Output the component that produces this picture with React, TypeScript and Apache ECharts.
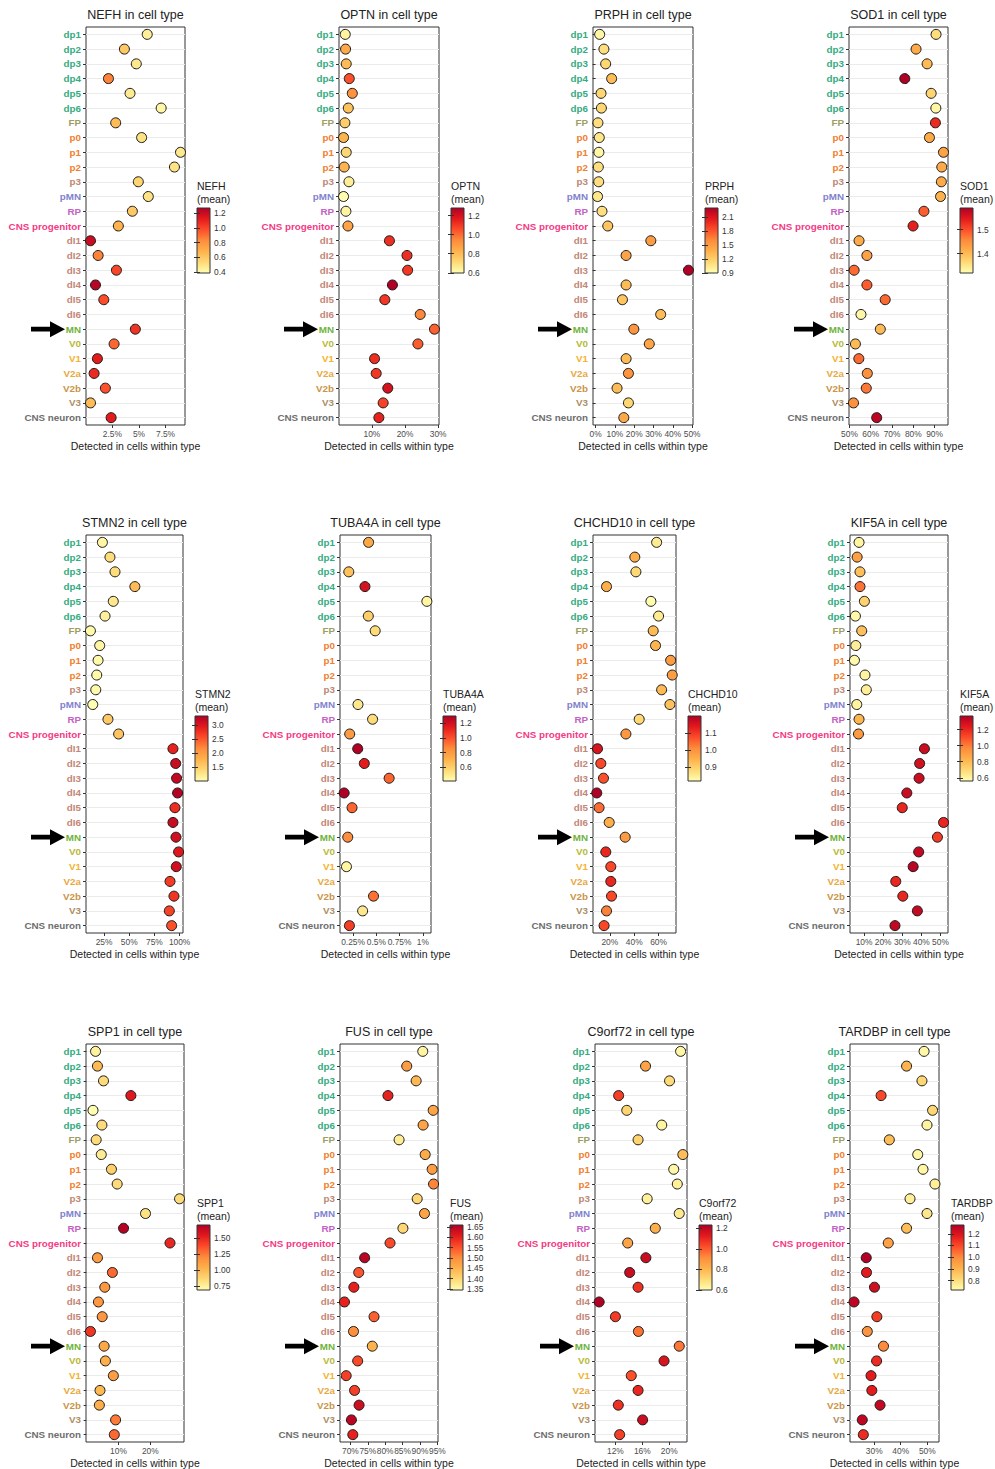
import React, { useEffect, useRef } from 'react';
import * as echarts from 'echarts';

// ---------- categories ----------
const CELL_TYPES = ['dp1','dp2','dp3','dp4','dp5','dp6','FP','p0','p1','p2','p3','pMN','RP','CNS progenitor','dI1','dI2','dI3','dI4','dI5','dI6','MN','V0','V1','V2a','V2b','V3','CNS neuron'];
const CELL_COLORS = ['#35AB80','#35AB80','#35AB80','#35AB80','#35AB80','#35AB80','#9E9E62','#F0802E','#F0802E','#F0802E','#BD8774','#8282CE','#C462C4','#F43A84','#C38676','#C38676','#C38676','#C38676','#C38676','#C38676','#6FB33C','#B8B93A','#F2B431','#E8A843','#C99448','#AC8F66','#6E6E6E'];

// ---------- values (percent detected, mean expression) ----------
const nefhPct = [5.78,3.63,4.75,2.13,4.16,7.09,2.81,5.25,8.91,8.34,4.94,5.88,4.38,3.06,0.44,1.16,2.88,0.91,1.69,null,4.66,2.66,1.09,0.78,1.84,0.44,2.38];
const nefhMean = [0.45,0.6,0.48,0.85,0.47,0.42,0.65,0.5,0.48,0.5,0.55,0.5,0.6,0.68,1.2,0.85,1.0,1.25,0.98,null,1.05,0.92,1.12,1.08,0.97,0.65,1.12];

const optnPct = [1.94,2.04,2.24,3.16,4.08,2.86,1.84,1.43,2.24,1.63,3.06,1.43,2.14,2.76,15.3,20.6,20.8,16.2,13.9,24.6,28.9,23.9,10.8,11.3,14.8,13.4,12.1];
const optnMean = [0.63,0.85,0.8,1.05,0.92,0.78,0.75,0.82,0.72,0.82,0.65,0.6,0.63,0.87,1.12,1.12,1.1,1.28,1.1,0.95,1.02,1.03,1.12,1.1,1.2,1.08,1.15];

const prphPct = [2.1,4.3,5.2,8.3,2.8,3.0,1.2,1.9,1.7,1.4,1.6,1.0,3.3,6.3,28.6,15.8,48.1,15.8,13.9,33.7,19.8,27.8,15.8,17.0,11.1,17.0,14.6];
const prphMean = [0.95,1.1,1.15,1.3,1.15,1.15,1.1,1.05,0.95,1.1,1.1,1.05,1.1,1.25,1.5,1.45,2.29,1.3,1.25,1.3,1.55,1.45,1.3,1.55,1.3,1.15,1.42];

const sod1Pct = [90.7,81.3,86.5,76.0,88.4,90.6,90.4,87.6,94.2,93.4,93.2,92.8,85.0,79.9,54.5,58.2,52.2,58.2,66.8,55.4,64.5,52.8,54.4,58.4,57.9,51.9,62.8];
const sod1Mean = [1.36,1.42,1.40,1.59,1.37,1.33,1.53,1.42,1.43,1.42,1.42,1.41,1.49,1.54,1.42,1.43,1.48,1.49,1.48,1.33,1.40,1.40,1.48,1.45,1.47,1.45,1.58];

const stmn2Pct = [23.4,30.9,35.9,55.6,34.2,26.0,11.5,20.7,19.1,17.8,16.8,13.8,28.9,39.5,93.4,96.1,97.0,98.0,95.4,93.4,96.4,99.0,96.7,90.5,94.4,89.8,92.1];
const stmn2Mean = [1.1,1.35,1.35,1.7,1.25,1.15,1.05,1.1,1.05,1.05,1.05,1.0,1.55,1.6,2.9,3.15,3.2,3.3,2.8,3.15,3.1,3.0,3.1,2.7,2.75,2.65,2.55];

const tuba4aPct = [0.417,null,0.204,0.378,1.044,0.414,0.488,null,null,null,null,0.303,0.46,0.214,0.30,0.371,0.638,0.154,0.239,null,0.193,null,0.179,null,0.47,0.353,0.211];
const tuba4aMean = [0.75,null,0.65,1.2,0.45,0.6,0.55,null,null,null,null,0.5,0.55,0.8,1.3,1.15,0.95,1.3,0.95,null,0.85,null,0.45,null,0.92,0.5,1.05];

const chchd10Pct = [58.4,40.5,41.4,17.3,53.7,60.0,55.6,57.5,69.9,71.2,62.5,69.3,44.1,33.2,9.9,12.6,14.8,9.3,11.2,19.5,32.6,16.7,20.8,20.8,21.4,17.3,15.3];
const chchd10Mean = [0.85,0.95,0.88,0.95,0.82,0.85,0.93,0.94,0.98,0.98,0.93,0.92,0.88,0.99,1.15,1.08,1.07,1.2,1.04,0.95,0.98,1.12,1.08,1.12,1.08,1.02,1.08];

const kif5aPct = [7.4,6.4,7.9,7.9,10.2,5.5,8.8,5.7,5.0,10.5,11.2,6.2,7.4,7.1,41.6,39.1,38.8,32.4,30.0,51.6,48.4,38.6,35.7,26.6,30.3,37.9,26.2];
const kif5aMean = [0.6,0.9,0.78,1.02,0.72,0.58,0.78,0.62,0.58,0.6,0.62,0.6,0.82,0.92,1.3,1.28,1.3,1.3,1.2,1.2,1.15,1.32,1.35,1.2,1.2,1.32,1.33];

const spp1Pct = [2.8,3.4,5.3,13.9,2.0,4.8,3.0,4.6,7.8,9.6,29.2,18.5,11.6,26.2,3.4,8.1,5.7,3.7,4.9,1.2,5.5,5.9,8.4,4.2,4.0,9.1,8.7];
const spp1Mean = [0.75,1.0,0.85,1.55,0.7,0.85,0.85,0.78,0.9,0.85,0.85,0.82,1.7,1.5,1.12,1.3,1.15,1.15,1.15,1.45,1.08,1.05,1.12,1.0,1.05,1.25,1.3];

const fusPct = [90.8,86.2,88.9,80.8,93.8,90.9,84.0,91.5,93.5,93.9,89.2,91.3,85.1,81.4,74.1,72.4,71.0,68.3,76.8,70.9,76.3,72.1,68.8,71.2,72.5,70.3,70.7];
const fusMean = [1.36,1.48,1.44,1.6,1.47,1.47,1.37,1.46,1.48,1.51,1.4,1.47,1.4,1.56,1.65,1.55,1.6,1.6,1.54,1.5,1.45,1.56,1.57,1.57,1.63,1.65,1.6];

const c9orf72Pct = [21.69,16.48,20.05,12.48,13.69,18.89,15.37,22.02,20.67,21.2,16.72,21.49,17.93,13.83,16.53,14.12,15.37,9.59,12.0,15.42,21.49,19.23,14.36,15.37,12.43,16.05,12.63];
const c9orf72Mean = [0.62,0.85,0.7,1.05,0.72,0.63,0.72,0.78,0.62,0.64,0.64,0.66,0.82,0.85,1.18,1.18,1.08,1.23,1.06,0.96,0.95,1.15,1.02,1.1,1.08,1.18,1.05];

const tardbpPct = [48.8,42.2,48.0,32.6,52.0,49.9,35.7,46.4,48.4,52.9,43.5,49.9,42.2,35.3,27.0,27.1,30.1,22.4,31.0,27.4,33.5,30.9,28.8,29.1,32.2,25.5,25.9];
const tardbpMean = [0.74,0.9,0.82,1.1,0.82,0.75,0.88,0.74,0.74,0.76,0.76,0.78,0.88,0.95,1.27,1.18,1.22,1.25,1.12,0.98,1.0,1.15,1.18,1.18,1.24,1.25,1.15];

// ---------- tick labels ----------
const nefhTicks = [2.5, 5, 7.5];
const optnTicks = [10, 20, 30];
const prphTicks = [0, 10, 20, 30, 40, 50];
const sod1Ticks = [50, 60, 70, 80, 90];
const stmn2Ticks = [25, 50, 75, 100];
const tuba4aTicks = [0.25, 0.5, 0.75, 1];
const chchd10Ticks = [20, 40, 60];
const kif5aTicks = [10, 20, 30, 40, 50];
const spp1Ticks = [10, 20];
const fusTicks = [70, 75, 80, 85, 90, 95];
const c9orf72Ticks = [12, 16, 20];
const tardbpTicks = [30, 40, 50];

// colour-bar ranges and ticks
const nefhColorRange = [0.39, 1.27]; const nefhColorTicks = [0.4, 0.6, 0.8, 1.0, 1.2];
const optnColorRange = [0.598, 1.28]; const optnColorTicks = [0.6, 0.8, 1.0, 1.2];
const prphColorRange = [0.898, 2.29]; const prphColorTicks = [0.9, 1.2, 1.5, 1.8, 2.1];
const sod1ColorRange = [1.32, 1.59]; const sod1ColorTicks = [1.4, 1.5];
const stmn2ColorRange = [1.0, 3.34]; const stmn2ColorTicks = [1.5, 2.0, 2.5, 3.0];
const tuba4aColorRange = [0.41, 1.3]; const tuba4aColorTicks = [0.6, 0.8, 1.0, 1.2];
const chchd10ColorRange = [0.816, 1.2]; const chchd10ColorTicks = [0.9, 1.0, 1.1];
const kif5aColorRange = [0.56, 1.37]; const kif5aColorTicks = [0.6, 0.8, 1.0, 1.2];
const spp1ColorRange = [0.69, 1.71]; const spp1ColorTicks = [0.75, 1.0, 1.25, 1.5];
const fusColorRange = [1.345, 1.66]; const fusColorTicks = [1.35, 1.4, 1.45, 1.5, 1.55, 1.6, 1.65];
const c9orf72ColorRange = [0.598, 1.233]; const c9orf72ColorTicks = [0.6, 0.8, 1.0, 1.2];
const tardbpColorRange = [0.72, 1.275]; const tardbpColorTicks = [0.8, 0.9, 1.0, 1.1, 1.2];

const PANELS = [
  { gene: 'NEFH', pct: nefhPct, mean: nefhMean, ticks: nefhTicks, cRange: nefhColorRange, cTicks: nefhColorTicks, dec: 1 },
  { gene: 'OPTN', pct: optnPct, mean: optnMean, ticks: optnTicks, cRange: optnColorRange, cTicks: optnColorTicks, dec: 1 },
  { gene: 'PRPH', pct: prphPct, mean: prphMean, ticks: prphTicks, cRange: prphColorRange, cTicks: prphColorTicks, dec: 1 },
  { gene: 'SOD1', pct: sod1Pct, mean: sod1Mean, ticks: sod1Ticks, cRange: sod1ColorRange, cTicks: sod1ColorTicks, dec: 1 },
  { gene: 'STMN2', pct: stmn2Pct, mean: stmn2Mean, ticks: stmn2Ticks, cRange: stmn2ColorRange, cTicks: stmn2ColorTicks, dec: 1 },
  { gene: 'TUBA4A', pct: tuba4aPct, mean: tuba4aMean, ticks: tuba4aTicks, cRange: tuba4aColorRange, cTicks: tuba4aColorTicks, dec: 1 },
  { gene: 'CHCHD10', pct: chchd10Pct, mean: chchd10Mean, ticks: chchd10Ticks, cRange: chchd10ColorRange, cTicks: chchd10ColorTicks, dec: 1 },
  { gene: 'KIF5A', pct: kif5aPct, mean: kif5aMean, ticks: kif5aTicks, cRange: kif5aColorRange, cTicks: kif5aColorTicks, dec: 1 },
  { gene: 'SPP1', pct: spp1Pct, mean: spp1Mean, ticks: spp1Ticks, cRange: spp1ColorRange, cTicks: spp1ColorTicks, dec: 2 },
  { gene: 'FUS', pct: fusPct, mean: fusMean, ticks: fusTicks, cRange: fusColorRange, cTicks: fusColorTicks, dec: 2 },
  { gene: 'C9orf72', pct: c9orf72Pct, mean: c9orf72Mean, ticks: c9orf72Ticks, cRange: c9orf72ColorRange, cTicks: c9orf72ColorTicks, dec: 1 },
  { gene: 'TARDBP', pct: tardbpPct, mean: tardbpMean, ticks: tardbpTicks, cRange: tardbpColorRange, cTicks: tardbpColorTicks, dec: 1 },
];

// ---------- layout ----------
const PLOT_LEFT = [86, 339, 593, 849, 86, 340, 593, 850, 86, 340, 595, 850];
const PLOT_RIGHT = [185, 439, 693, 948, 183, 431, 676, 948, 184, 438, 687, 939];
const ROW_TOP = [27, 535, 1044];
const PLOT_H = 398;
const LEGEND_LEFT = [197, 451, 705, 960, 195, 443, 688, 960, 197, 450, 699, 951];
const LEGEND_OFFSET = 181;
const LEGEND_W = 13;
const LEGEND_H = 65;
const YLORRD = ['#FFFFB2', '#FED976', '#FEB24C', '#FD8D3C', '#FC4E2A', '#E31A1C', '#B10026'];
const FONT = '"Liberation Sans", Arial, Helvetica, sans-serif';

function buildOption() {
  const grids: any[] = [];
  const xAxes: any[] = [];
  const yAxes: any[] = [];
  const series: any[] = [];
  const visualMaps: any[] = [];
  const graphics: any[] = [];
  const mnIndex = CELL_TYPES.indexOf('MN');

  PANELS.forEach((p, i) => {
    const row = Math.floor(i / 4);
    const top = ROW_TOP[row];
    const left = PLOT_LEFT[i];
    const width = PLOT_RIGHT[i] - left;
    grids.push({
      left, top, width, height: PLOT_H, show: true, backgroundColor: '#ffffff',
      borderColor: '#333333', borderWidth: 1, containLabel: false, outerBoundsMode: 'none',
    });
    const vals = p.pct.filter((v) => v != null) as number[];
    const dmin = Math.min(...vals);
    const dmax = Math.max(...vals);
    const pad = (dmax - dmin) * 0.05;
    xAxes.push({
      gridIndex: i, type: 'value', min: dmin - pad, max: dmax + pad,
      axisLine: { show: false }, splitLine: { show: false },
      axisTick: { show: true, customValues: p.ticks, length: 3, lineStyle: { color: '#333333' } },
      axisLabel: { customValues: p.ticks, formatter: (v: number) => `${v}%`, fontSize: 8.4, color: '#4D4D4D', margin: 5, hideOverlap: false },
      name: 'Detected in cells within type', nameLocation: 'middle', nameGap: 15,
      nameTextStyle: { fontSize: 10.5, color: '#222222', fontFamily: FONT },
    });
    yAxes.push({
      gridIndex: i, type: 'category', data: CELL_TYPES, inverse: true,
      axisLine: { show: false },
      axisTick: { show: true, alignWithLabel: true, length: 3, lineStyle: { color: '#333333' } },
      axisLabel: {
        interval: 0, fontSize: 9.8, fontWeight: 'bold', margin: 5, fontFamily: FONT,
        color: (v: string) => CELL_COLORS[CELL_TYPES.indexOf(v)],
      },
      splitLine: { show: true, alignWithLabel: true, interval: 0, lineStyle: { color: '#EBEBEB', width: 1 } },
    });
    const data: any[] = [];
    p.pct.forEach((v, k) => {
      if (v != null && p.mean[k] != null) data.push([v, k, p.mean[k]]);
    });
    series.push({
      type: 'scatter', xAxisIndex: i, yAxisIndex: i, symbolSize: 10, z: 5,
      itemStyle: { borderColor: '#1a1a1a', borderWidth: 1, opacity: 1 },
      data,
    });
    visualMaps.push({
      type: 'continuous', show: false, seriesIndex: i, dimension: 2,
      min: p.cRange[0], max: p.cRange[1], inRange: { color: YLORRD },
    });

    // title
    graphics.push({
      type: 'text', x: left + width / 2, y: top - 12,
      style: { text: `${p.gene} in cell type`, fontSize: 12.5, fontFamily: FONT, fill: '#222222', textAlign: 'center', textVerticalAlign: 'middle' },
    });
    // legend title
    graphics.push({
      type: 'text', x: LEGEND_LEFT[i], y: top + LEGEND_OFFSET - 29,
      style: { text: `${p.gene}\n(mean)`, fontSize: 10.5, lineHeight: 13, fontFamily: FONT, fill: '#222222', textAlign: 'left', textVerticalAlign: 'top' },
    });
    // arrow to MN
    const yMN = top + (mnIndex + 0.5) * PLOT_H / CELL_TYPES.length;
    const tx = left - 21;
    graphics.push({
      type: 'polygon',
      shape: { points: [[tx, yMN], [tx - 15, yMN - 8], [tx - 15, yMN - 2.4], [tx - 34, yMN - 2.4], [tx - 34, yMN + 2.4], [tx - 15, yMN + 2.4], [tx - 15, yMN + 8]] },
      style: { fill: '#000000' },
    });
  });

  // colour bars
  PANELS.forEach((p, i) => {
    const row = Math.floor(i / 4);
    const gi = 12 + i;
    grids.push({
      left: LEGEND_LEFT[i], top: ROW_TOP[row] + LEGEND_OFFSET, width: LEGEND_W, height: LEGEND_H,
      show: true, borderColor: '#333333', borderWidth: 1, containLabel: false, outerBoundsMode: 'none',
      backgroundColor: {
        type: 'linear', x: 0, y: 1, x2: 0, y2: 0,
        colorStops: YLORRD.map((c, k) => ({ offset: k / (YLORRD.length - 1), color: c })),
      },
    });
    xAxes.push({ gridIndex: gi, type: 'value', show: false, min: 0, max: 1 });
    yAxes.push({
      gridIndex: gi, type: 'value', min: p.cRange[0], max: p.cRange[1], position: 'right',
      axisLine: { show: false }, splitLine: { show: false },
      axisTick: { show: true, inside: true, length: 3, customValues: p.cTicks, lineStyle: { color: '#333333' } },
      axisLabel: { customValues: p.cTicks, formatter: (v: number) => v.toFixed(p.dec), fontSize: 8.4, color: '#333333', margin: 4, hideOverlap: false },
    });
    yAxes.push({
      gridIndex: gi, type: 'value', min: p.cRange[0], max: p.cRange[1], position: 'left',
      axisLine: { show: false }, splitLine: { show: false },
      axisTick: { show: true, inside: true, length: 3, customValues: p.cTicks, lineStyle: { color: '#333333' } },
      axisLabel: { show: false },
    });
  });

  return {
    animation: false,
    backgroundColor: '#ffffff',
    textStyle: { fontFamily: FONT },
    grid: grids,
    xAxis: xAxes,
    yAxis: yAxes,
    visualMap: visualMaps,
    series,
    graphic: graphics,
  };
}

export default function App() {
  const ref = useRef<HTMLDivElement>(null);
  useEffect(() => {
    if (!ref.current) return;
    const chart = echarts.init(ref.current, null, { renderer: 'svg' });
    chart.setOption(buildOption() as any);
    return () => chart.dispose();
  }, []);
  return <div ref={ref} style={{ position: 'absolute', left: 0, top: 0, width: 995, height: 1469 }} />;
}
